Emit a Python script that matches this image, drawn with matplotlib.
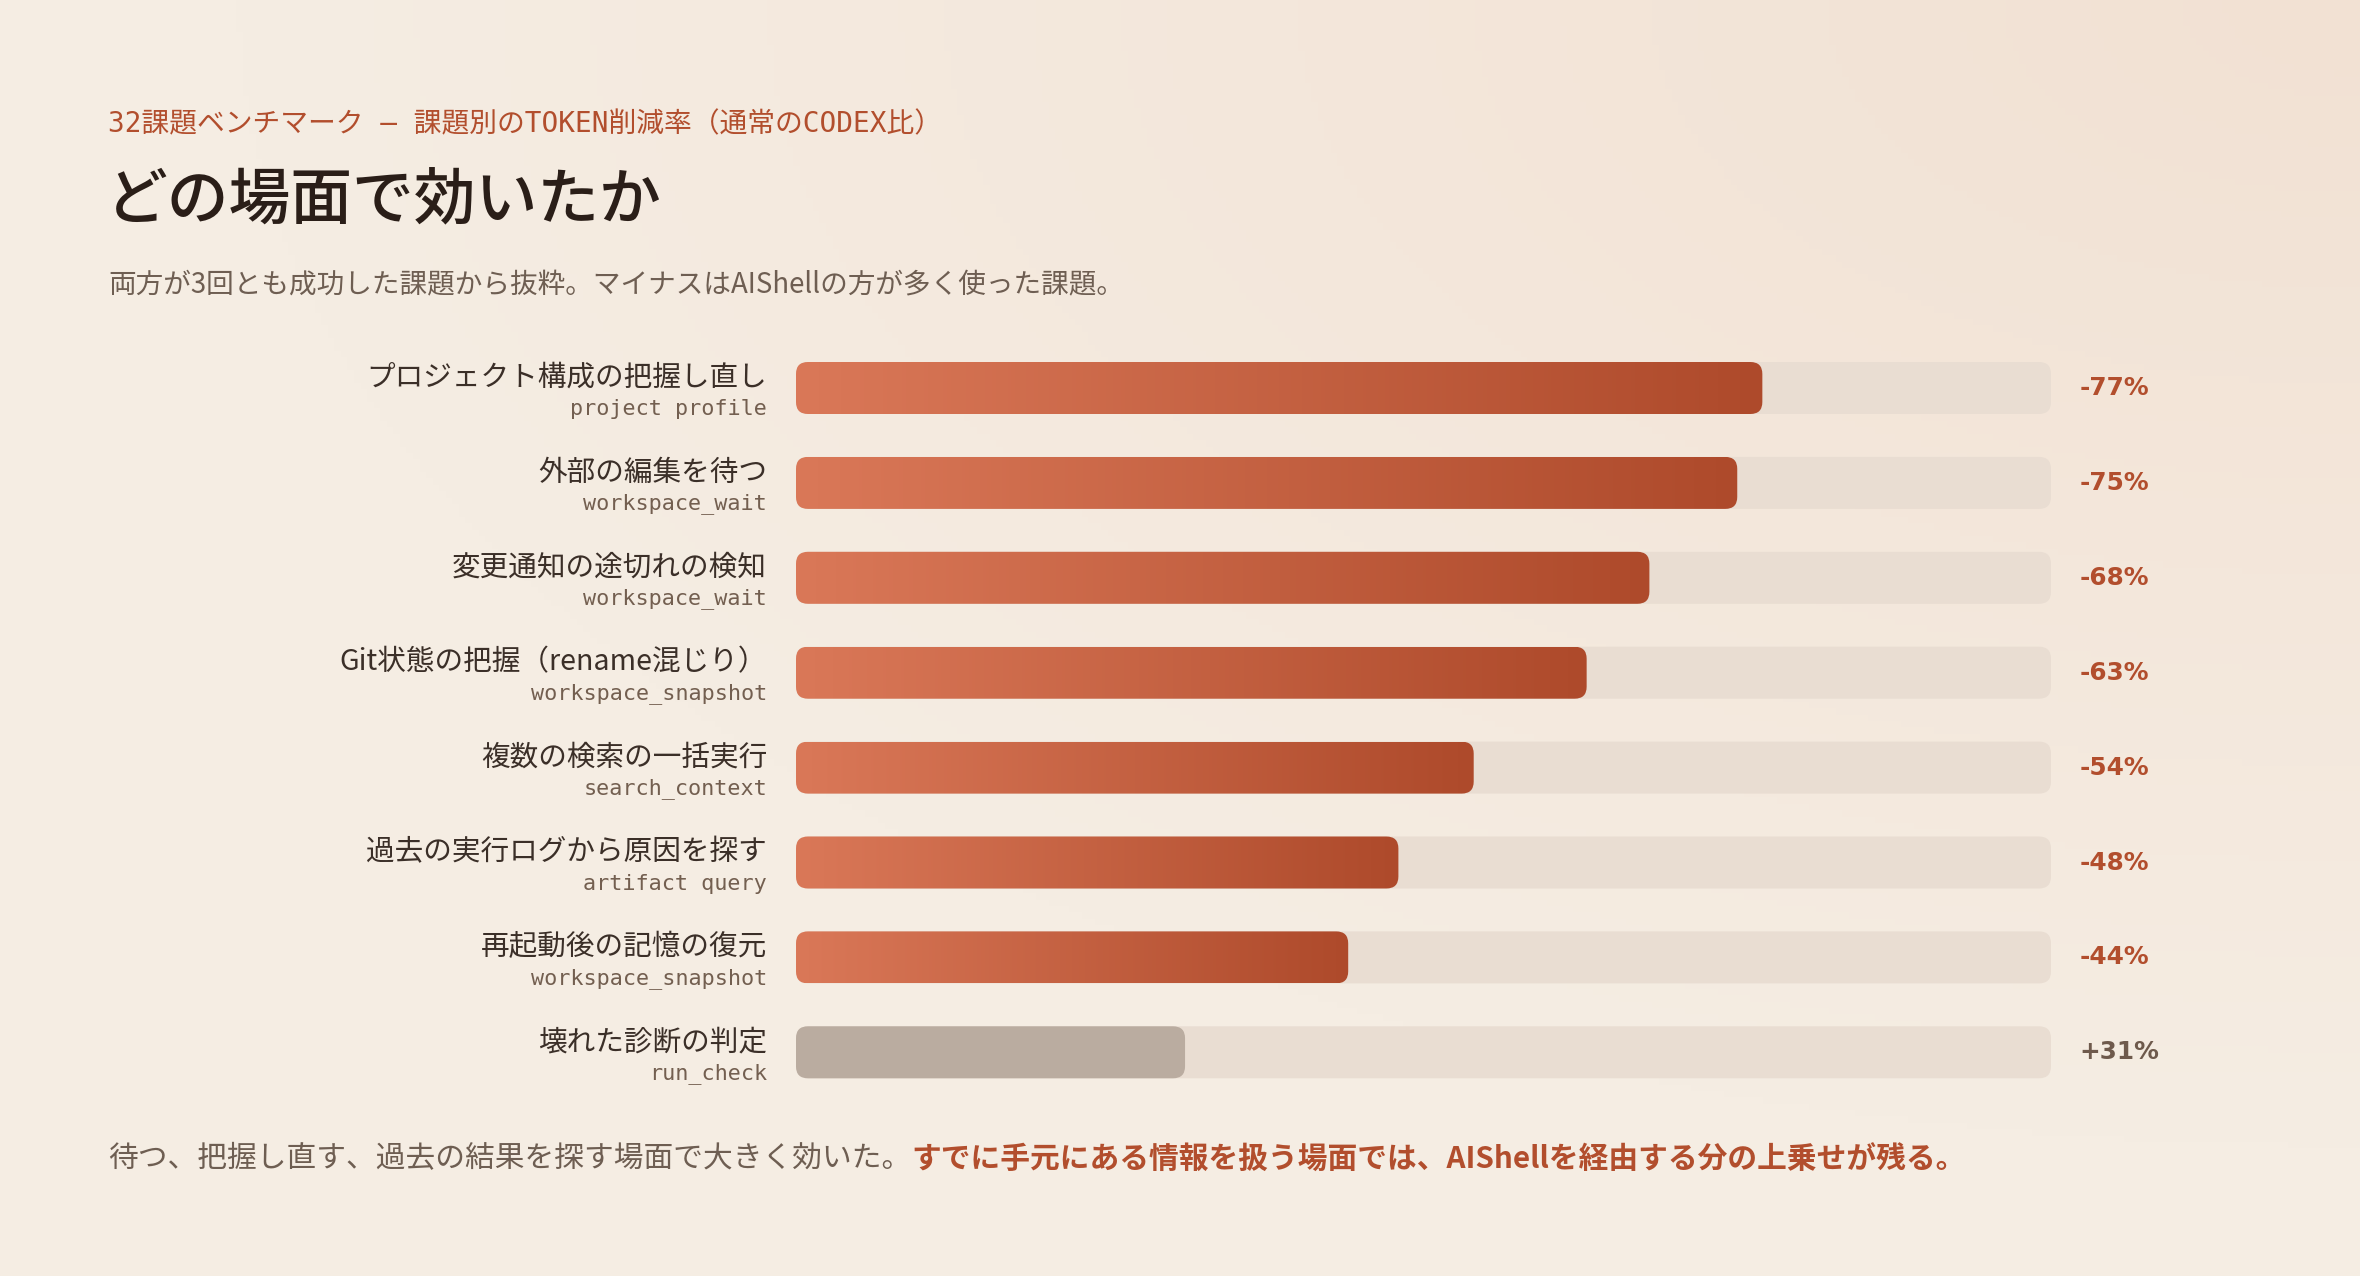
import matplotlib.pyplot as plt
import numpy as np
from matplotlib.colors import LinearSegmentedColormap
from matplotlib.patches import FancyBboxPatch

plt.rcParams['font.family'] = ['Noto Sans CJK JP', 'DejaVu Sans']

# data
tasks = ['プロジェクト構成の把握し直し', '外部の編集を待つ', '変更通知の途切れの検知',
         'Git状態の把握（rename混じり）', '複数の検索の一括実行',
         '過去の実行ログから原因を探す', '再起動後の記憶の復元', '壊れた診断の判定']
kinds = ['project profile', 'workspace_wait', 'workspace_wait', 'workspace_snapshot',
         'search_context', 'artifact query', 'workspace_snapshot', 'run_check']
change_pct = [-77, -75, -68, -63, -54, -48, -44, 31]

eyebrow = '32課題ベンチマーク — 課題別のTOKEN削減率（通常のCODEX比）'
title = 'どの場面で効いたか'
subtitle = '両方が3回とも成功した課題から抜粋。マイナスはAIShellの方が多く使った課題。'
note_plain = '待つ、把握し直す、過去の結果を探す場面で大きく効いた。'
note_bold = 'すでに手元にある情報を扱う場面では、AIShellを経由する分の上乗せが残る。'

RUST = '#B24E2D'
INK = '#2A1E18'
MUTED = '#6E5E52'
TRACK = '#E9DDD2'
GREY_BAR = '#BAACA0'
bar_cmap = LinearSegmentedColormap.from_list('rust', ['#DA7858', '#AE4A2B'])

W, H = 2360, 1276
fig = plt.figure(figsize=(W / 100, H / 100), dpi=100)

# soft background wash, warmer toward the top right
bg = fig.add_axes([0, 0, 1, 1], zorder=-5)
yy, xx = np.mgrid[0:1:200j, 0:1:360j]
t = np.clip(1 - np.hypot(1 - xx, yy) / 0.9, 0, 1)
c0 = np.array([245, 237, 227]) / 255
c1 = np.array([242, 225, 211]) / 255
bg.imshow(c0 + (c1 - c0) * t[..., None], aspect='auto', extent=(0, 1, 0, 1))
bg.axis('off')

# header texts
fig.text(108 / W, 1 - 124 / H, eyebrow, color=RUST, fontsize=20, va='center',
         family=['DejaVu Sans Mono', 'Noto Sans CJK JP'])
fig.text(106 / W, 1 - 202 / H, title, color=INK, fontsize=44.5, va='center',
         fontweight='medium')
fig.text(108 / W, 1 - 285 / H, subtitle, color=MUTED, fontsize=19.9, va='center')

# bar area: x in percent (0..100), one row per task
row_px = 94.9
n = len(tasks)
top_px = 388 - row_px / 2
ax = fig.add_axes([796 / W, 1 - (top_px + n * row_px) / H, 1255 / W, n * row_px / H])
ax.set_xlim(0, 100)
ax.set_ylim(n - 0.5, -0.5)
ax.axis('off')

bar_h = 52 / row_px
rad_x = 12 * 100 / 1255
rad_y = 12 / row_px
style = f'round,pad=0,rounding_size={rad_x}'

for i, v in enumerate(change_pct):
    ax.add_patch(FancyBboxPatch((0, i - bar_h / 2), 100, bar_h, boxstyle=style,
                                mutation_aspect=rad_y / rad_x, fc=TRACK, ec='none'))
    width = abs(v)
    if v < 0:
        shape = FancyBboxPatch((0, i - bar_h / 2), width, bar_h, boxstyle=style,
                               mutation_aspect=rad_y / rad_x, fc='none', ec='none')
        ax.add_patch(shape)
        im = ax.imshow(np.linspace(0, 1, 256)[None, :], cmap=bar_cmap, aspect='auto',
                       extent=(0, width, i + bar_h / 2, i - bar_h / 2), zorder=2)
        im.set_clip_path(shape)
        val_color = RUST
    else:
        ax.add_patch(FancyBboxPatch((0, i - bar_h / 2), width, bar_h, boxstyle=style,
                                    mutation_aspect=rad_y / rad_x, fc=GREY_BAR,
                                    ec='none', zorder=2))
        val_color = '#6E5A4C'
    ax.text(102.3, i, f'{v:+d}%', color=val_color, fontsize=17.8, fontweight='bold',
            va='center', ha='left', family='DejaVu Sans')
    ax.annotate(tasks[i], xy=(0, i), xytext=(-29, 10), textcoords='offset pixels',
                ha='right', va='center', fontsize=20.6, color='#3B2F28')
    ax.annotate(kinds[i], xy=(0, i), xytext=(-29, -21), textcoords='offset pixels',
                ha='right', va='center', fontsize=15.7, color='#735F50',
                family='DejaVu Sans Mono')

ax.set_xlim(0, 100)
ax.set_ylim(n - 0.5, -0.5)

# footer note, second half in bold rust
t1 = fig.text(108 / W, 1 - 1159 / H, note_plain, color=MUTED, fontsize=21.4, va='center')
ax.annotate(note_bold, xy=(1, 0), xycoords=t1, va='bottom', ha='left',
            fontsize=21.4, color=RUST, fontweight='bold', annotation_clip=False)

fig.savefig('out.png', dpi=100)
